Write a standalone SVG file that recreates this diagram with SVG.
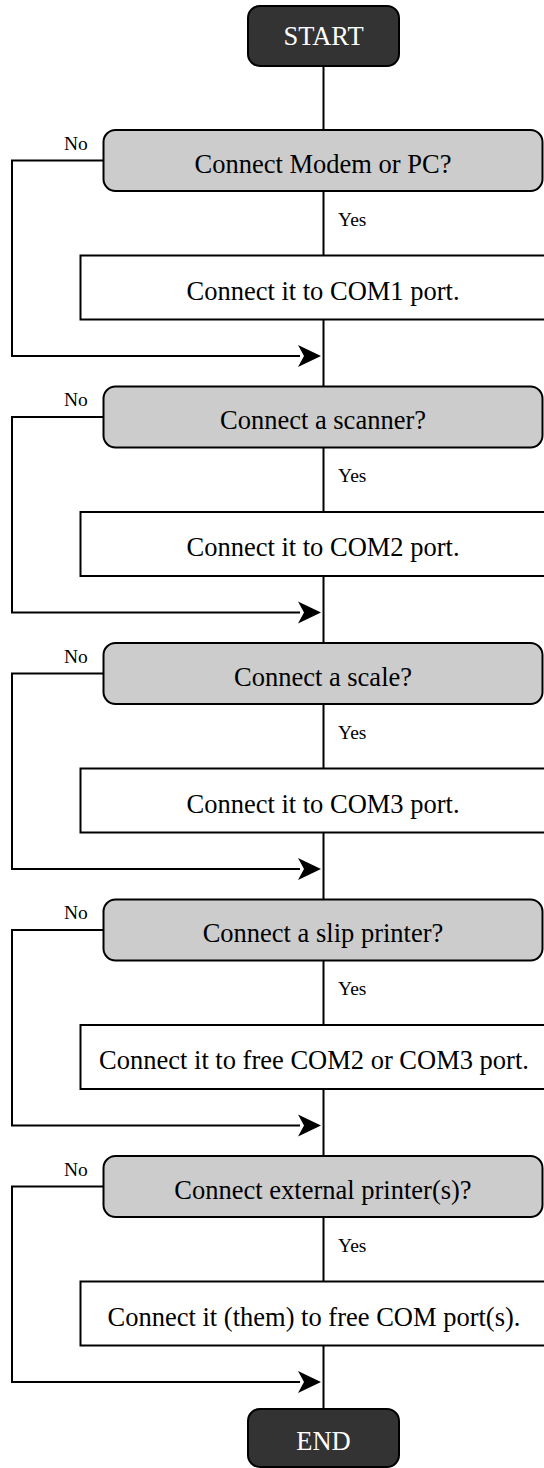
<svg xmlns="http://www.w3.org/2000/svg" width="544" height="1468" viewBox="0 0 544 1468">
<style>
.term{fill:#333333;stroke:#000;stroke-width:2}
.dec{fill:#cccccc;stroke:#000;stroke-width:2}
.proc{fill:#ffffff;stroke:#000;stroke-width:2}
.tw{font-family:"Liberation Serif","Times New Roman",serif;font-size:26.5px;fill:#ffffff;text-anchor:middle}
.tb{font-family:"Liberation Serif","Times New Roman",serif;font-size:26.5px;fill:#000;text-anchor:middle}
.lb{font-family:"Liberation Serif","Times New Roman",serif;font-size:19.5px;fill:#000}
.ln{fill:none;stroke:#000;stroke-width:2}
.ah{fill:#000;stroke:none}
</style>
<rect width="544" height="1468" fill="#ffffff"/>
<g id="connectors">
<path class="ln" d="M323.5 66 V130"/>
<path class="ln" d="M323.5 191 V255.5 M323.5 319.5 V386.5"/>
<path class="ln" d="M103.5 160.5 H12 V356 H300"/>
<path class="ah" d="M321 356 L298 345 L304 356 L298 367 Z"/>
<path class="ln" d="M323.5 447.5 V512 M323.5 576 V643"/>
<path class="ln" d="M103.5 417 H12 V612.5 H300"/>
<path class="ah" d="M321 612.5 L298 601.5 L304 612.5 L298 623.5 Z"/>
<path class="ln" d="M323.5 704 V768.5 M323.5 832.5 V899.5"/>
<path class="ln" d="M103.5 673.5 H12 V869 H300"/>
<path class="ah" d="M321 869 L298 858 L304 869 L298 880 Z"/>
<path class="ln" d="M323.5 960.5 V1025 M323.5 1089 V1156"/>
<path class="ln" d="M103.5 930 H12 V1125.5 H300"/>
<path class="ah" d="M321 1125.5 L298 1114.5 L304 1125.5 L298 1136.5 Z"/>
<path class="ln" d="M323.5 1217 V1281.5 M323.5 1345.5 V1409"/>
<path class="ln" d="M103.5 1186.5 H12 V1382 H300"/>
<path class="ah" d="M321 1382 L298 1371 L304 1382 L298 1393 Z"/>
</g>
<g id="start">
<rect class="term" x="248" y="6" width="151" height="60" rx="12"/>
<text class="tw" x="323.5" y="45">START</text>
</g>
<g id="d1">
<rect class="dec" x="103.5" y="130" width="439" height="61" rx="12"/>
<text class="tb" x="323" y="172.5">Connect Modem or PC?</text>
<text class="lb" x="64" y="149.5">No</text>
<text class="lb" x="338" y="225.5">Yes</text>
</g>
<g id="p1">
<rect class="proc" x="80.5" y="255.5" width="486" height="64"/>
<text class="tb" x="323" y="299.5">Connect it to COM1 port.</text>
</g>
<g id="d2">
<rect class="dec" x="103.5" y="386.5" width="439" height="61" rx="12"/>
<text class="tb" x="323" y="429">Connect a scanner?</text>
<text class="lb" x="64" y="406">No</text>
<text class="lb" x="338" y="482">Yes</text>
</g>
<g id="p2">
<rect class="proc" x="80.5" y="512" width="486" height="64"/>
<text class="tb" x="323" y="556">Connect it to COM2 port.</text>
</g>
<g id="d3">
<rect class="dec" x="103.5" y="643" width="439" height="61" rx="12"/>
<text class="tb" x="323" y="685.5">Connect a scale?</text>
<text class="lb" x="64" y="662.5">No</text>
<text class="lb" x="338" y="738.5">Yes</text>
</g>
<g id="p3">
<rect class="proc" x="80.5" y="768.5" width="486" height="64"/>
<text class="tb" x="323" y="812.5">Connect it to COM3 port.</text>
</g>
<g id="d4">
<rect class="dec" x="103.5" y="899.5" width="439" height="61" rx="12"/>
<text class="tb" x="323" y="942">Connect a slip printer?</text>
<text class="lb" x="64" y="919">No</text>
<text class="lb" x="338" y="995">Yes</text>
</g>
<g id="p4">
<rect class="proc" x="80.5" y="1025" width="486" height="64"/>
<text class="tb" x="314" y="1069">Connect it to free COM2 or COM3 port.</text>
</g>
<g id="d5">
<rect class="dec" x="103.5" y="1156" width="439" height="61" rx="12"/>
<text class="tb" x="323" y="1198.5">Connect external printer(s)?</text>
<text class="lb" x="64" y="1175.5">No</text>
<text class="lb" x="338" y="1251.5">Yes</text>
</g>
<g id="p5">
<rect class="proc" x="80.5" y="1281.5" width="486" height="64"/>
<text class="tb" x="314" y="1325.5">Connect it (them) to free COM port(s).</text>
</g>
<g id="end">
<rect class="term" x="248" y="1409" width="151" height="58" rx="12"/>
<text class="tw" x="323.5" y="1450">END</text>
</g>
</svg>
